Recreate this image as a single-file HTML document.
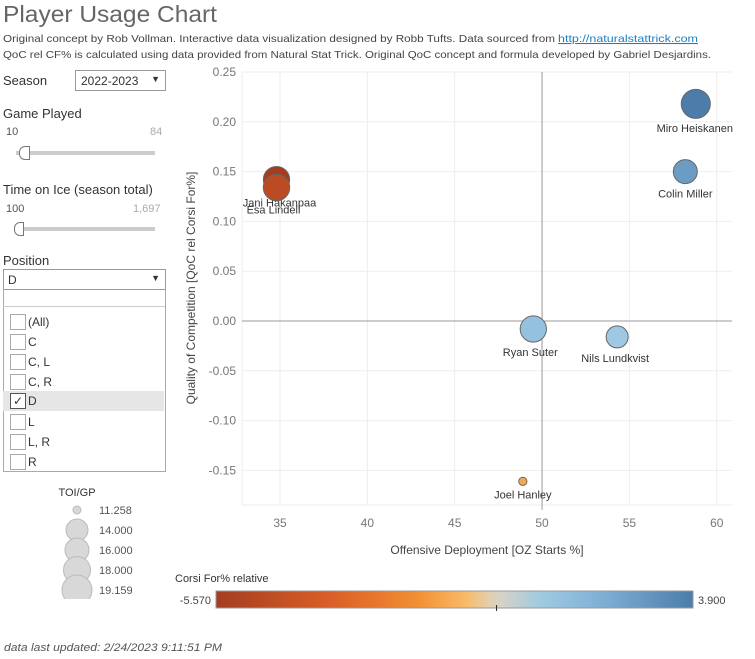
<!DOCTYPE html>
<html><head><meta charset="utf-8">
<style>
body{margin:0;width:755px;height:659px;background:#fff;font-family:"Liberation Sans",sans-serif;color:#333;position:relative;overflow:hidden}
.a{position:absolute}
.lbl{font-size:12px;color:#333}
.cb{position:absolute;left:7px;width:14px;height:14px;border:1px solid #aaa;background:#fff}
.opt{position:absolute;left:3px;width:161px;height:20px;font-size:12px;color:#333}
.opt span{position:absolute;left:25px;top:3px}
</style></head><body>
<svg class="a" style="left:0;top:0" width="755" height="659">
<text x="3" y="22" font-size="23" fill="#666" textLength="214" lengthAdjust="spacingAndGlyphs">Player Usage Chart</text>
<text x="3" y="42" font-size="10.5" fill="#444"><tspan textLength="552" lengthAdjust="spacingAndGlyphs">Original concept by Rob Vollman.  Interactive data visualization designed by Robb Tufts.  Data sourced from</tspan><tspan x="558" fill="#1a7fc4" text-decoration="underline" textLength="140" lengthAdjust="spacingAndGlyphs">http://naturalstattrick.com</tspan></text>
<text x="3" y="58" font-size="10.5" fill="#444" textLength="708" lengthAdjust="spacingAndGlyphs">QoC rel CF% is calculated using data provided from Natural Stat Trick.  Original QoC concept and formula developed by Gabriel Desjardins.</text>
<g id="chart"></g>
<text x="4" y="651" font-size="11" font-style="italic" fill="#555" textLength="218" lengthAdjust="spacingAndGlyphs">data last updated:  2/24/2023 9:11:51 PM</text>
</svg>

<div class="a lbl" style="left:3px;top:73px;font-size:13px">Season</div>
<div class="a" style="left:75px;top:70px;width:89px;height:19px;border:1px solid #999;font-size:12px"><span style="position:absolute;left:5px;top:3px">2022-2023</span><span style="position:absolute;right:5px;top:3px;font-size:9px">▼</span></div>

<div class="a lbl" style="left:3px;top:106px;font-size:13px">Game Played</div>
<div class="a" style="left:6px;top:126px;font-size:11px;color:#555">10</div>
<div class="a" style="left:150px;top:126px;font-size:11px;color:#aaa">84</div>
<div class="a" style="left:16px;top:151px;width:139px;height:4px;background:#ccc"></div>
<div class="a" style="left:19px;top:146px;width:9px;height:12px;border:1px solid #777;border-radius:6px 0 0 6px;background:#fff"></div>

<div class="a lbl" style="left:3px;top:182px;font-size:13px">Time on Ice (season total)</div>
<div class="a" style="left:6px;top:203px;font-size:11px;color:#555">100</div>
<div class="a" style="left:133px;top:203px;font-size:11px;color:#aaa">1,697</div>
<div class="a" style="left:14px;top:227px;width:141px;height:4px;background:#ccc"></div>
<div class="a" style="left:14px;top:222px;width:8px;height:12px;border:1px solid #777;border-radius:6px 0 0 6px;background:#fff"></div>

<div class="a lbl" style="left:3px;top:253px;font-size:13px">Position</div>
<div class="a" style="left:3px;top:269px;width:161px;height:19px;border:1px solid #999;font-size:12px"><span style="position:absolute;left:4px;top:3px">D</span><span style="position:absolute;right:5px;top:3px;font-size:9px">▼</span></div>
<div class="a" style="left:3px;top:289px;width:161px;height:182px;border:1px solid #aaa;border-top:none"></div>
<div class="a" style="left:3px;top:306px;width:162px;height:1px;background:#ccc"></div>
<div class="opt" style="top:312px"><div class="cb" style="top:2px"></div><span>(All)</span></div>
<div class="opt" style="top:332px"><div class="cb" style="top:2px"></div><span>C</span></div>
<div class="opt" style="top:352px"><div class="cb" style="top:2px"></div><span>C, L</span></div>
<div class="opt" style="top:372px"><div class="cb" style="top:2px"></div><span>C, R</span></div>
<div class="opt" style="top:391px;background:#e6e6e6"><div class="cb" style="top:2px;border-color:#555;font-size:12px;line-height:14px;text-align:center">✓</div><span>D</span></div>
<div class="opt" style="top:412px"><div class="cb" style="top:2px"></div><span>L</span></div>
<div class="opt" style="top:432px"><div class="cb" style="top:2px"></div><span>L, R</span></div>
<div class="opt" style="top:452px"><div class="cb" style="top:2px"></div><span>R</span></div>

<script>
const names=["Miro Heiskanen","Colin Miller","Ryan Suter","Nils Lundkvist","Joel Hanley","Jani Hakanpaa","Esa Lindell"];
const ozStarts=[58.8,58.2,49.5,54.3,48.9,34.8,34.8];
const qoc=[0.218,0.150,-0.008,-0.016,-0.161,0.142,0.134];
const toiGp=[18.8,16.0,17.5,14.0,11.3,17.5,17.6];
const cfRel=[3.9,2.8,1.3,0.9,-1.0,-5.57,-4.6];
const xTicks=[35,40,45,50,55,60];
const yTicks=[0.25,0.20,0.15,0.10,0.05,0.00,-0.05,-0.10,-0.15];
const sizeLegend=[11.258,14.000,16.000,18.000,19.159];
const colorRange=[-5.570,3.900];

const NS="http://www.w3.org/2000/svg";
const g=document.getElementById('chart');
function mk(t,a,p){const e=document.createElementNS(NS,t);for(const k in a)e.setAttribute(k,a[k]);(p||g).appendChild(e);return e;}
const X=v=>280+(v-35)*17.47;
const Y=v=>321-v*996;
function R(v){const k=[[11.258,4],[14,11],[16,12],[18,13.5],[19.159,15]];
  if(v<=k[0][0])return k[0][1];
  for(let i=1;i<k.length;i++){if(v<=k[i][0]){const f=(v-k[i-1][0])/(k[i][0]-k[i-1][0]);return k[i-1][1]+f*(k[i][1]-k[i-1][1]);}}
  return 15;}
function col(v){
  const stops=[[0,[164,61,32]],[0.25,[220,96,40]],[0.42,[242,142,50]],[0.52,[250,185,100]],[0.588,[220,212,195]],[0.68,[160,202,226]],[0.8,[128,178,214]],[1,[76,125,170]]];
  const t=(v-colorRange[0])/(colorRange[1]-colorRange[0]);
  for(let i=1;i<stops.length;i++){if(t<=stops[i][0]){const a=stops[i-1],b=stops[i],f=(t-a[0])/(b[0]-a[0]);return 'rgb('+a[1].map((c,j)=>Math.round(c+(b[1][j]-c)*f)).join(',')+')';}}
  return 'rgb(76,125,170)';
}
xTicks.forEach(t=>{
  const l=mk('line',{x1:X(t),x2:X(t),y1:72,y2:505,stroke:'#eee'});
  
  
  const tx=mk('text',{x:X(t),y:527,'font-size':12,fill:'#777','text-anchor':'middle'});tx.textContent=t;
  
  
});
yTicks.forEach(t=>{
  const l=mk('line',{x1:242,x2:732,y1:Y(t),y2:Y(t),stroke:'#eee'});
  
  
  const tx=mk('text',{x:236,y:Y(t)+4,'font-size':12,fill:'#777','text-anchor':'end'});tx.textContent=t.toFixed(2);
  
  
});
mk('line',{x1:242,x2:242,y1:72,y2:505,stroke:'#eee'});
mk('line',{x1:242,x2:732,y1:505,y2:505,stroke:'#eee'});
const zx=mk('line',{x1:X(50),x2:X(50),y1:72,y2:510,stroke:'#999'});


const zy=mk('line',{x1:242,x2:732,y1:Y(0),y2:Y(0),stroke:'#999'});


const xt=mk('text',{x:487,y:554,'font-size':12,fill:'#444','text-anchor':'middle'});xt.textContent='Offensive Deployment [OZ Starts %]';


const yt=mk('text',{x:0,y:0,'font-size':12,fill:'#444','text-anchor':'middle',transform:'translate(195,288) rotate(-90)'});yt.textContent='Quality of Competition [QoC rel Corsi For%]';


const labOff=[[-1,28],[0,26],[-3,27],[-2,25],[0,17],[3,27],[-3,26]];
names.forEach((n,i)=>{
  const c=mk('circle',{cx:X(ozStarts[i]),cy:Y(qoc[i]),r:R(toiGp[i]),fill:col(cfRel[i]),stroke:'#666','stroke-width':1});
  
  
  const t=mk('text',{x:X(ozStarts[i])+labOff[i][0],y:Y(qoc[i])+labOff[i][1],'font-size':11,fill:'#333','text-anchor':'middle'});t.textContent=n;
  
  
});
const st=mk('text',{x:77,y:496,'font-size':11,fill:'#333','text-anchor':'middle'});st.textContent='TOI/GP';


const cp=mk('clipPath',{id:'lc'});mk('rect',{x:50,y:500,width:60,height:99},cp);
sizeLegend.forEach((v,i)=>{
  const cy=510+i*20;
  const c=mk('circle',{cx:77,cy:cy,r:R(v),fill:'#d8d8d8',stroke:'#bbb','clip-path':'url(#lc)'});
  
  
  const t=mk('text',{x:99,y:cy+4,'font-size':11,fill:'#555'});t.textContent=v.toFixed(3);
  
  
});
const defs=mk('defs',{});
const lg=mk('linearGradient',{id:'cg',x1:0,x2:1,y1:0,y2:0},defs);
for(let i=0;i<=40;i++){const v=colorRange[0]+(colorRange[1]-colorRange[0])*i/40;mk('stop',{offset:i/40,'stop-color':col(v)},lg);}
const ct=mk('text',{x:175,y:582,'font-size':11,fill:'#333'});ct.textContent='Corsi For% relative';


const cr=mk('rect',{x:216,y:591,width:477,height:17,fill:'url(#cg)',stroke:'#999'});


const zt=216+477*(0-colorRange[0])/(colorRange[1]-colorRange[0]);
mk('line',{x1:zt,x2:zt,y1:605,y2:611,stroke:'#222'});
const l1=mk('text',{x:211,y:604,'font-size':11,fill:'#444','text-anchor':'end'});l1.textContent=colorRange[0].toFixed(3);


const l2=mk('text',{x:698,y:604,'font-size':11,fill:'#444'});l2.textContent=colorRange[1].toFixed(3);


</script>
</body></html>
